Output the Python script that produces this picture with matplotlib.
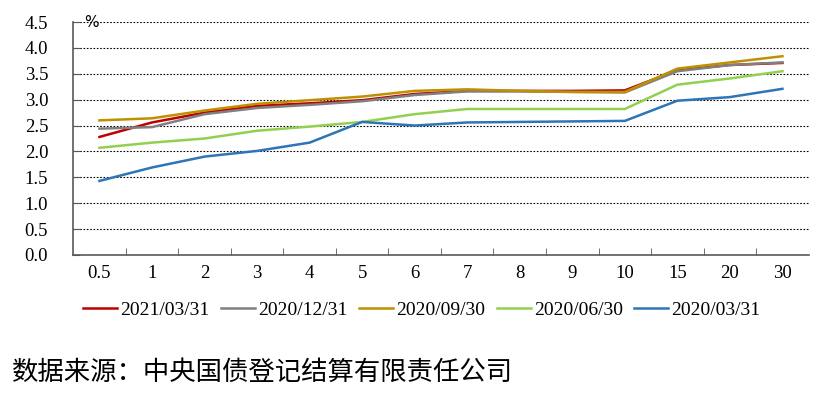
import matplotlib.pyplot as plt
import numpy as np

# 期限（年）
terms = ['0.5', '1', '2', '3', '4', '5', '6', '7', '8', '9', '10', '15', '20', '30']

# 各日期国债收益率曲线 (%)
y_20210331 = [2.28, 2.56, 2.75, 2.88, 2.93, 2.99, 3.11, 3.17, 3.17, 3.17, 3.18, 3.57, 3.67, 3.71]
y_20201231 = [2.44, 2.47, 2.72, 2.84, 2.90, 2.97, 3.09, 3.16, 3.16, 3.15, 3.14, 3.55, 3.67, 3.72]
y_20200930 = [2.60, 2.64, 2.79, 2.92, 2.99, 3.06, 3.17, 3.20, 3.17, 3.15, 3.15, 3.60, 3.72, 3.84]
y_20200630 = [2.07, 2.17, 2.25, 2.40, 2.48, 2.57, 2.72, 2.82, 2.82, 2.82, 2.82, 3.29, 3.41, 3.55]
y_20200331 = [1.43, 1.69, 1.90, 2.01, 2.17, 2.57, 2.50, 2.56, 2.57, 2.58, 2.59, 2.98, 3.05, 3.21]

series = [
    ('2021/03/31', y_20210331, '#C00000'),
    ('2020/12/31', y_20201231, '#808080'),
    ('2020/09/30', y_20200930, '#BF9000'),
    ('2020/06/30', y_20200630, '#92D050'),
    ('2020/03/31', y_20200331, '#2E75B6'),
]

serif = ['Liberation Serif', 'DejaVu Serif']
cjk = ['Noto Sans CJK SC', 'DejaVu Sans']

fig = plt.figure(figsize=(8.32, 3.94), dpi=100)
ax = fig.add_axes([0.088, 0.353, 0.884, 0.591])

x = np.arange(len(terms))
for name, vals, c in series:
    ax.plot(x, vals, color=c, lw=1.8, label=name)

ax.set_xlim(-0.5, len(terms) - 0.5)
ax.set_ylim(0, 4.5)
yt = np.arange(0, 4.51, 0.5)
ax.set_yticks(yt)
ax.set_yticklabels(['%.1f' % v for v in yt], family=serif, fontsize=13.5)
ax.set_xticks(x)
ax.set_xticklabels(terms, family=serif, fontsize=13.5)
ax.set_xticks(np.arange(0.5, len(terms) - 0.5, 1), minor=True)
ax.tick_params(axis='x', which='major', length=0, pad=7)
ax.tick_params(axis='x', which='minor', direction='in', length=5, color='#595959')
ax.tick_params(axis='y', direction='in', length=5, color='#595959', pad=18)

ax.grid(axis='y', color='black', linestyle=(0, (1.5, 1.5)), lw=0.8)
ax.set_axisbelow(True)
for s in ['top', 'right']:
    ax.spines[s].set_visible(False)
for s in ['left', 'bottom']:
    ax.spines[s].set_color('#595959')
    ax.spines[s].set_linewidth(1.2)

ax.text(-0.3, 4.5, '%', fontsize=11, ha='left', va='center')

fig.legend(loc='center', bbox_to_anchor=(0.507, 0.212), ncol=5, frameon=False,
           prop={'family': serif, 'size': 14}, handlelength=1.75,
           handletextpad=0.15, columnspacing=0.6)

fig.text(0.014, 0.055, '数据来源：中央国债登记结算有限责任公司', family=cjk, fontsize=19,
         ha='left', va='center')

fig.savefig('out.png', dpi=100)
